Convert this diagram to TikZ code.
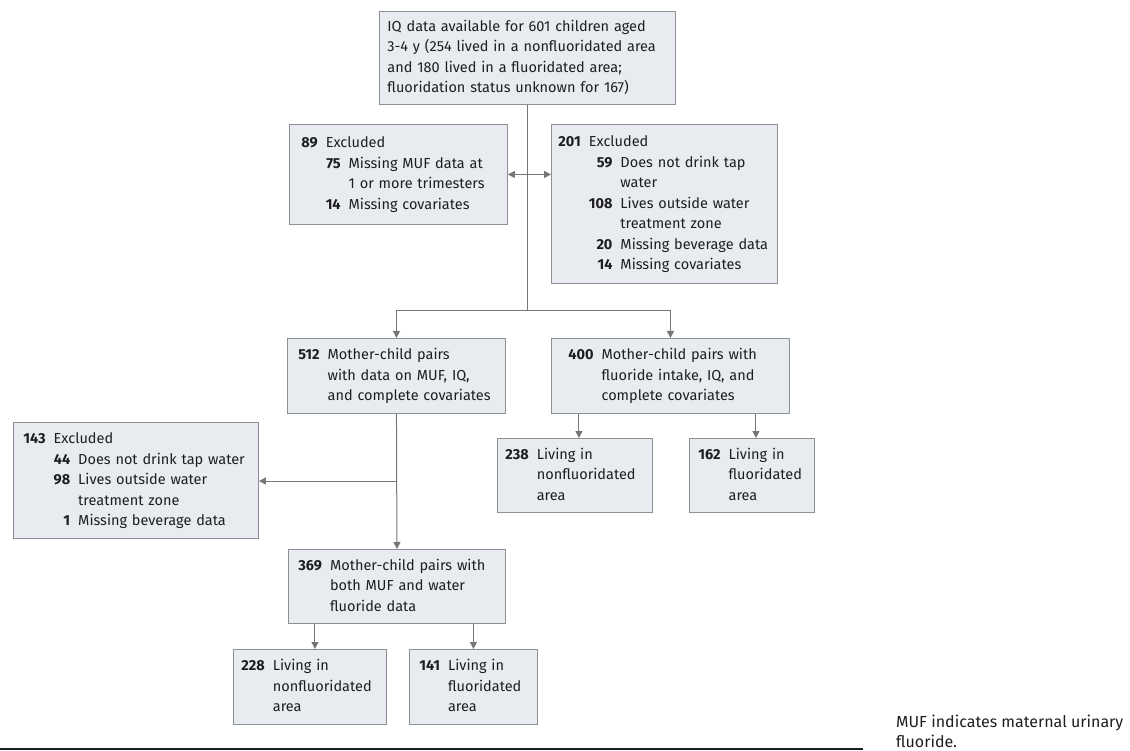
\documentclass[tikz,border=0pt]{standalone}
\usepackage{fontspec}
\setmainfont{Fira Sans}
\usetikzlibrary{arrows.meta}
\definecolor{boxfill}{RGB}{232,236,240}
\definecolor{boxline}{RGB}{140,144,148}
\definecolor{arrcol}{RGB}{118,118,118}
\definecolor{txt}{RGB}{30,30,30}
\newcommand{\nb}[1]{\textbf{#1}}
\newcommand{\hd}[1]{\multicolumn{2}{@{}l@{}}{#1}}
\tikzset{
  fbox/.style={draw=boxline, fill=boxfill, line width=0.9pt, anchor=north west,
    inner ysep=0pt, align=left, text=txt, font=\fontsize{14.5}{20.5}\selectfont},
  flow/.style={draw=arrcol, line width=1pt, -{Triangle[length=7pt,width=7pt]}},
  plainline/.style={draw=arrcol, line width=1pt},
  twoway/.style={draw=arrcol, line width=1pt, {Triangle[length=7pt,width=7pt]}-{Triangle[length=7pt,width=7pt]}}
}
\begin{document}
\begin{tikzpicture}[x=1pt,y=-1pt]
\useasboundingbox (0,0) rectangle (1130,751);

% top box
\node[fbox, minimum width=296, minimum height=93, inner xsep=8, text width=280] (top) at (379,11)
{\begin{tabular}{@{}l@{}}IQ data available for 601 children aged\\3-4 y (254 lived in a nonfluoridated area\\and 180 lived in a fluoridated area;\\fluoridation status unknown for 167)\end{tabular}};

% excluded 89
\node[fbox, minimum width=218, minimum height=100, inner xsep=12, text width=194] (b89) at (289,124)
{\begin{tabular}{@{}r@{\hspace{8pt}}r@{\hspace{8pt}}l@{}}
\nb{89} & \hd{Excluded}\\
 & \nb{75} & Missing MUF data at\\
 & & 1 or more trimesters\\
 & \nb{14} & Missing covariates
\end{tabular}};

% excluded 201
\node[fbox, minimum width=226, minimum height=159, inner xsep=7, text width=212] (b201) at (551,124)
{\begin{tabular}{@{}r@{\hspace{8pt}}r@{\hspace{8pt}}l@{}}
\nb{201} & \hd{Excluded}\\
 & \nb{59} & Does not drink tap\\
 & & water\\
 & \nb{108} & Lives outside water\\
 & & treatment zone\\
 & \nb{20} & Missing beverage data\\
 & \nb{14} & Missing covariates
\end{tabular}};

% 512
\node[fbox, minimum width=218, minimum height=75, inner xsep=11, text width=196] (b512) at (287,338)
{\begin{tabular}{@{}r@{\hspace{8pt}}l@{}}
\nb{512} & Mother-child pairs\\
 & with data on MUF, IQ,\\
 & and complete covariates
\end{tabular}};

% 400
\node[fbox, minimum width=238, minimum height=75, inner xsep=17, text width=204] (b400) at (551,338)
{\begin{tabular}{@{}r@{\hspace{8pt}}l@{}}
\nb{400} & Mother-child pairs with\\
 & fluoride intake, IQ, and\\
 & complete covariates
\end{tabular}};

% 238
\node[fbox, minimum width=155, minimum height=74, inner xsep=8, text width=139] (b238) at (497,438)
{\begin{tabular}{@{}r@{\hspace{8pt}}l@{}}
\nb{238} & Living in\\
 & nonfluoridated\\
 & area
\end{tabular}};

% 162
\node[fbox, minimum width=125, minimum height=74, inner xsep=9, text width=107] (b162) at (689,438)
{\begin{tabular}{@{}r@{\hspace{8pt}}l@{}}
\nb{162} & Living in\\
 & fluoridated\\
 & area
\end{tabular}};

% excluded 143
\node[fbox, minimum width=245, minimum height=116, inner xsep=10, text width=225] (b143) at (13,422)
{\begin{tabular}{@{}r@{\hspace{8pt}}r@{\hspace{8pt}}l@{}}
\nb{143} & \hd{Excluded}\\
 & \nb{44} & Does not drink tap water\\
 & \nb{98} & Lives outside water\\
 & & treatment zone\\
 & \nb{1} & Missing beverage data
\end{tabular}};

% 369
\node[fbox, minimum width=217, minimum height=74, inner xsep=10, text width=197] (b369) at (288,549)
{\begin{tabular}{@{}r@{\hspace{8pt}}l@{}}
\nb{369} & Mother-child pairs with\\
 & both MUF and water\\
 & fluoride data
\end{tabular}};

% 228
\node[fbox, minimum width=153, minimum height=75, inner xsep=8, text width=137] (b228) at (233,649)
{\begin{tabular}{@{}r@{\hspace{8pt}}l@{}}
\nb{228} & Living in\\
 & nonfluoridated\\
 & area
\end{tabular}};

% 141
\node[fbox, minimum width=128, minimum height=75, inner xsep=10, text width=108] (b141) at (409,649)
{\begin{tabular}{@{}r@{\hspace{8pt}}l@{}}
\nb{141} & Living in\\
 & fluoridated\\
 & area
\end{tabular}};

% connectors
\coordinate (j1) at (top.south |- 0,311);
\coordinate (j2) at (b512.south |- 0,481);
\draw[plainline] (top.south) -- (j1);
\draw[flow] (j1) -| (b512.north);
\draw[flow] (j1) -| (b400.north);
\draw[twoway] (b89.east) -- (b89.east -| b201.west);
\draw[flow] (b512.south) -- (b369.north);
\draw[flow] (j2) -- (j2 -| b143.east);
\draw[flow] ([xshift=4pt]b400.south -| b238.north) -- ([xshift=4pt]b238.north);
\draw[flow] ([xshift=4pt]b400.south -| b162.north) -- ([xshift=4pt]b162.north);
\draw[flow] ([xshift=5pt]b369.south -| b228.north) -- ([xshift=5pt]b228.north);
\draw[flow] (b369.south -| b141.north) -- (b141.north);

% bottom rule and caption
\coordinate (r1) at (0,749);
\coordinate (r2) at (863,749);
\draw[line width=2.5pt, color=txt] (r1) -- (r2);
\node[anchor=north west, inner sep=0pt, text=txt, font=\fontsize{16}{20}\selectfont] (cap) at (896,713)
{\begin{tabular}{@{}l@{}}MUF indicates maternal urinary\\fluoride.\end{tabular}};
\end{tikzpicture}
\end{document}
